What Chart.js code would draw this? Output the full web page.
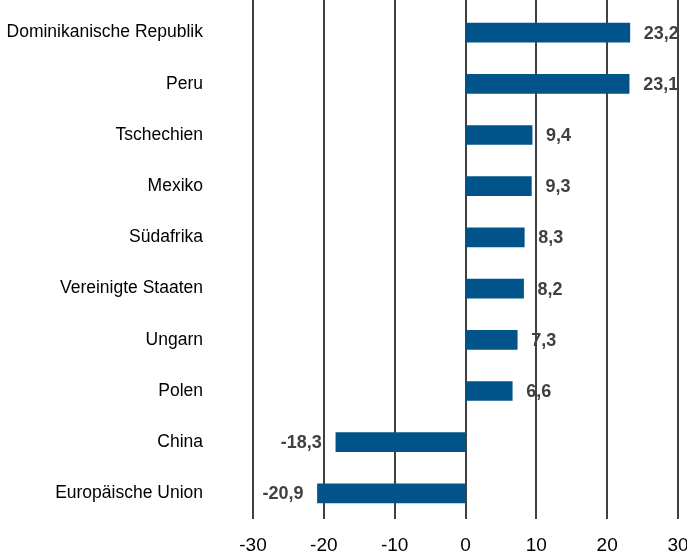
<!DOCTYPE html>
<html>
<head>
<meta charset="utf-8">
<script src="https://cdn.jsdelivr.net/npm/chart.js@4"></script>
<style>
  html, body { margin: 0; padding: 0; background: #fff; }
  #wrap { width: 687px; height: 555px; position: relative; }
</style>
</head>
<body>
<div id="wrap"><canvas id="barChart"></canvas></div>
<script>
// Daten
const categories = ['Dominikanische Republik', 'Peru', 'Tschechien', 'Mexiko', 'Südafrika',
    'Vereinigte Staaten', 'Ungarn', 'Polen', 'China', 'Europäische Union'];
const values = [23.2, 23.1, 9.4, 9.3, 8.3, 8.2, 7.3, 6.6, -18.3, -20.9];
const xTicks = [-30, -20, -10, 0, 10, 20, 30];

const barColor = '#00548a';
const labelFont = "'Liberation Sans', Arial, sans-serif";

// Gitterlinien hinter den Balken, bis zum oberen Rand
const gridPlugin = {
    id: 'fullGrid',
    beforeDatasetsDraw(chart) {
        const ctx = chart.ctx;
        const x = chart.scales.x;
        const area = chart.chartArea;
        ctx.save();
        ctx.strokeStyle = '#000';
        ctx.lineWidth = 1.5;
        xTicks.forEach(t => {
            const px = Math.round(x.getPixelForValue(t));
            ctx.beginPath();
            ctx.moveTo(px, 0);
            ctx.lineTo(px, area.bottom);
            ctx.stroke();
        });
        ctx.restore();
    }
};

// Wertbeschriftungen
const valuePlugin = {
    id: 'valueLabels',
    afterDatasetsDraw(chart) {
        const ctx = chart.ctx;
        const meta = chart.getDatasetMeta(0);
        ctx.save();
        ctx.font = 'bold 18px ' + labelFont;
        ctx.fillStyle = '#404040';
        ctx.textBaseline = 'middle';
        meta.data.forEach((bar, i) => {
            const v = values[i];
            const txt = v.toFixed(1).replace('.', ',');
            if (v >= 0) {
                ctx.textAlign = 'left';
                ctx.fillText(txt, bar.x + 14, bar.y + 1);
            } else {
                ctx.textAlign = 'right';
                ctx.fillText(txt, bar.x - 14, bar.y + 1);
            }
        });
        ctx.restore();
    }
};

document.addEventListener('DOMContentLoaded', function() {
    const ctx = document.getElementById('barChart');
    new Chart(ctx, {
        type: 'bar',
        data: {
            labels: categories,
            datasets: [{
                data: values,
                backgroundColor: barColor,
                barThickness: 19
            }]
        },
        options: {
            indexAxis: 'y',
            responsive: true,
            maintainAspectRatio: false,
            animation: false,
            layout: { padding: { top: 7, right: 9, left: 0, bottom: 0 } },
            plugins: {
                legend: { display: false },
                tooltip: { enabled: false }
            },
            scales: {
                x: {
                    min: -30,
                    max: 30,
                    afterBuildTicks: scale => {
                        scale.ticks = xTicks.map(v => ({ value: v }));
                    },
                    afterFit: scale => {
                        scale.height = 36;
                        scale.paddingLeft = 0;
                        scale.paddingRight = 0;
                    },
                    grid: { display: false, drawTicks: false },
                    border: { display: false },
                    ticks: {
                        padding: 15,
                        color: '#000',
                        font: { family: labelFont, size: 19 },
                        maxRotation: 0,
                        autoSkip: false
                    }
                },
                y: {
                    afterFit: scale => {
                        scale.width = 253;
                        scale.paddingTop = 0;
                        scale.paddingBottom = 0;
                    },
                    grid: { display: false, drawTicks: false },
                    border: { display: false },
                    ticks: {
                        padding: 50,
                        color: '#000',
                        font: { family: labelFont, size: 17.5 }
                    }
                }
            }
        },
        plugins: [gridPlugin, valuePlugin]
    });
});
</script>
</body>
</html>
